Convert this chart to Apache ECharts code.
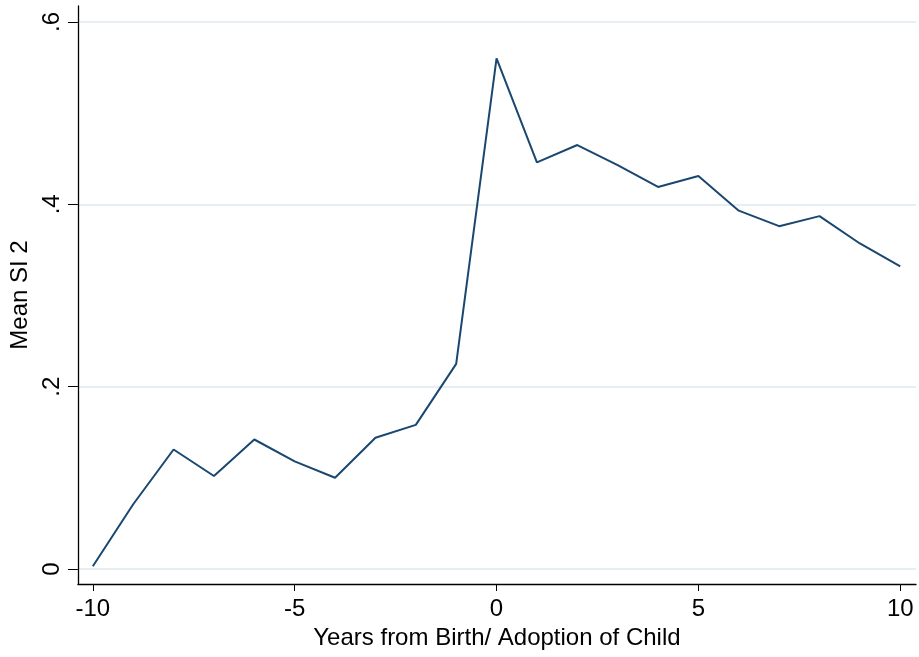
<!DOCTYPE html>
<html>
<head>
<meta charset="utf-8">
<script src="https://cdn.jsdelivr.net/npm/echarts@6/dist/echarts.min.js"></script>
<style>
  html, body { margin: 0; padding: 0; background: #fff; }
  #chart { width: 919px; height: 657px; }
</style>
</head>
<body>
<div id="chart"></div>
<script>
// years relative to birth/adoption
var years = [-10, -9, -8, -7, -6, -5, -4, -3, -2, -1, 0, 1, 2, 3, 4, 5, 6, 7, 8, 9, 10];
// mean SI 2
var meanSI2 = [0.003, 0.071, 0.131, 0.102, 0.142, 0.118, 0.100, 0.144, 0.158, 0.225,
               0.560, 0.446, 0.465, 0.443, 0.419, 0.431, 0.393, 0.376, 0.387, 0.357, 0.332];

var xTickValues = [-10, -5, 0, 5, 10];
var yTickValues = [0, 0.2, 0.4, 0.6];
var yTickLabels = ['0', '.2', '.4', '.6'];

var font = '"Liberation Sans", Arial, Helvetica, sans-serif';

var chart = echarts.init(document.getElementById('chart'));

var points = [];
for (var i = 0; i < years.length; i++) {
    points.push([years[i], meanSI2[i]]);
}

var option = {
    backgroundColor: '#ffffff',
    animation: false,
    grid: {
        left: 76,
        right: 3,
        top: 6,
        bottom: 73
    },
    xAxis: {
        type: 'value',
        min: -10.37,
        max: 10.39,
        name: 'Years from Birth/ Adoption of Child',
        nameLocation: 'middle',
        nameGap: 32,
        nameTextStyle: { fontFamily: font, fontSize: 24, color: '#000' },
        axisLine: { onZero: false, lineStyle: { color: '#000', width: 1.3 } },
        axisTick: { show: true, length: 7, customValues: xTickValues, lineStyle: { color: '#000', width: 1 } },
        axisLabel: { customValues: xTickValues, margin: 13, fontFamily: font, fontSize: 24, color: '#000' },
        splitLine: { show: false }
    },
    yAxis: {
        type: 'value',
        min: -0.0165,
        max: 0.6175,
        name: 'Mean SI 2',
        nameLocation: 'middle',
        nameGap: 41,
        nameTextStyle: { fontFamily: font, fontSize: 24, color: '#000' },
        axisLine: { show: true, onZero: false, lineStyle: { color: '#000', width: 1.3 } },
        axisTick: { show: true, length: 10, customValues: yTickValues, lineStyle: { color: '#000', width: 1 } },
        axisLabel: {
            customValues: yTickValues,
            rotate: 90,
            margin: 14,
            fontFamily: font,
            fontSize: 24,
            color: '#000',
            formatter: function (v) {
                for (var k = 0; k < yTickValues.length; k++) {
                    if (Math.abs(yTickValues[k] - v) < 1e-9) return yTickLabels[k];
                }
                return '';
            }
        },
        splitLine: { show: true, lineStyle: { color: '#e6eef2', width: 2 } }
    },
    series: [{
        type: 'line',
        data: points,
        showSymbol: false,
        lineStyle: { color: '#1a476f', width: 2 },
        itemStyle: { color: '#1a476f' }
    }]
};

chart.setOption(option);
window.addEventListener('resize', chart.resize);
</script>
</body>
</html>
